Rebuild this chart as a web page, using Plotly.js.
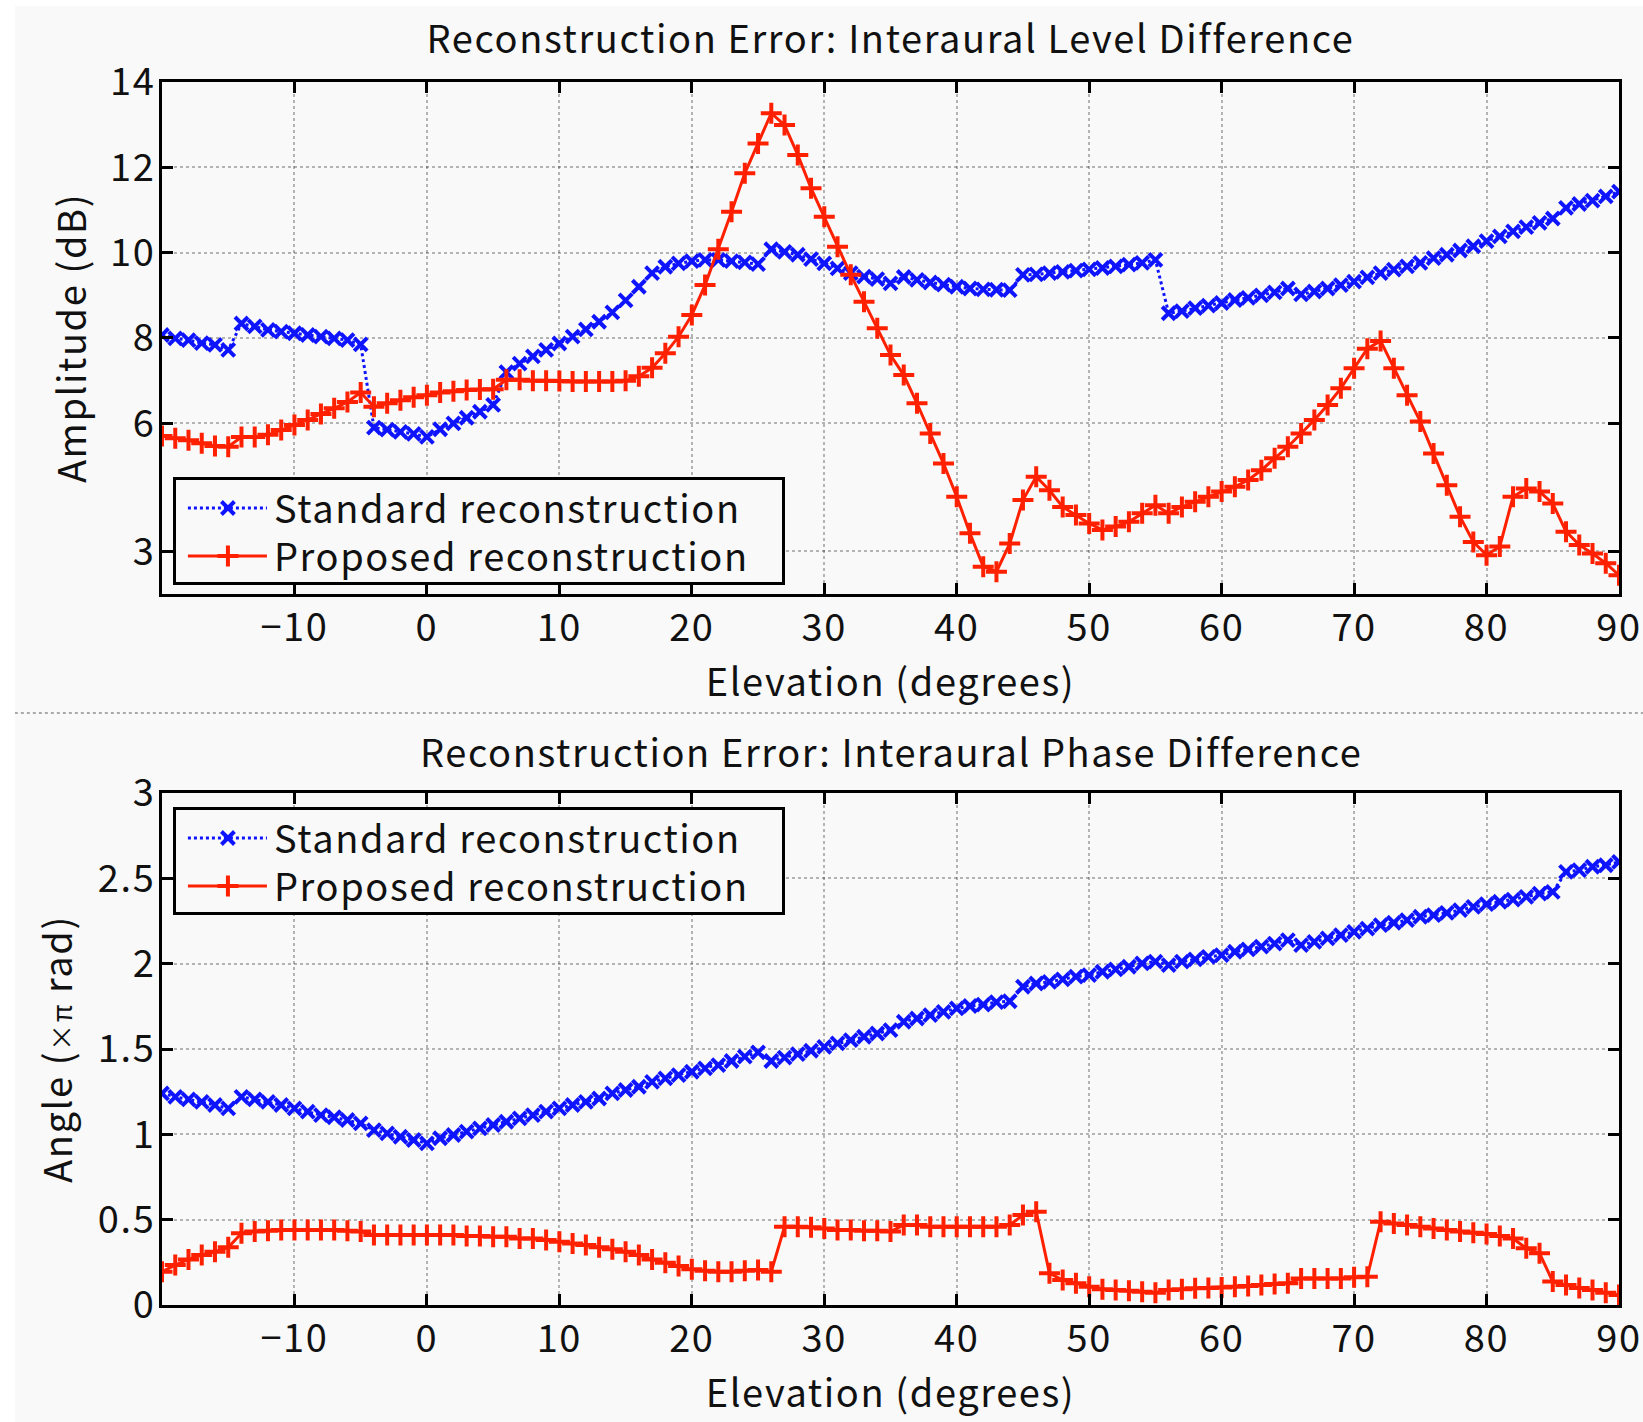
<!DOCTYPE html>
<html><head><meta charset="utf-8">
<script src="https://cdn.plot.ly/plotly-3.0.1.min.js"></script>
<style>html,body{margin:0;padding:0;background:#fff;} #chart{position:absolute;left:15px;top:6px;width:1628px;height:1416px;}
svg text{letter-spacing:1.6px;}</style>
</head><body><div id="chart"></div><script>
const elevation = [-20,-19,-18,-17,-16,-15,-14,-13,-12,-11,
 -10,-9,-8,-7,-6,-5,-4,-3,-2,-1,
 0,1,2,3,4,5,6,7,8,9,
 10,11,12,13,14,15,16,17,18,19,
 20,21,22,23,24,25,26,27,28,29,
 30,31,32,33,34,35,36,37,38,39,
 40,41,42,43,44,45,46,47,48,49,
 50,51,52,53,54,55,56,57,58,59,
 60,61,62,63,64,65,66,67,68,69,
 70,71,72,73,74,75,76,77,78,79,
 80,81,82,83,84,85,86,87,88,89,
 90];
const ildStandard = [8.07,7.99,7.95,7.88,7.84,7.72,8.34,8.27,8.19,8.15,
 8.11,8.07,8.03,7.99,7.95,7.85,5.9,5.85,5.8,5.75,
 5.68,5.86,6.0,6.13,6.27,6.43,7.2,7.4,7.57,7.72,
 7.87,8.03,8.2,8.38,8.6,8.88,9.2,9.52,9.67,9.75,
 9.8,9.83,9.83,9.8,9.77,9.73,10.08,10.02,9.95,9.85,
 9.75,9.63,9.52,9.44,9.38,9.28,9.43,9.36,9.3,9.25,
 9.2,9.16,9.14,9.13,9.12,9.48,9.49,9.52,9.55,9.58,
 9.61,9.64,9.68,9.72,9.76,9.83,8.58,8.63,8.7,8.76,
 8.82,8.89,8.94,9.0,9.07,9.16,9.02,9.09,9.16,9.24,
 9.32,9.42,9.52,9.6,9.68,9.76,9.87,9.95,10.05,10.15,
 10.27,10.38,10.5,10.6,10.7,10.8,11.05,11.14,11.22,11.32,
 11.43];
const ildProposed = [5.7,5.65,5.6,5.53,5.47,5.45,5.68,5.68,5.73,5.84,
 5.96,6.08,6.22,6.35,6.5,6.72,6.39,6.47,6.54,6.61,
 6.66,6.72,6.75,6.78,6.79,6.8,7.02,7.02,7.0,7.0,
 6.99,6.98,6.98,6.98,6.98,7.0,7.1,7.3,7.64,8.03,
 8.54,9.24,10.08,10.96,11.86,12.56,13.27,12.99,12.29,11.51,
 10.84,10.14,9.48,8.85,8.23,7.6,7.13,6.47,5.76,5.06,
 4.28,3.42,2.64,2.52,3.18,4.2,4.75,4.43,4.04,3.85,
 3.65,3.5,3.58,3.69,3.89,4.08,3.89,4.04,4.16,4.28,
 4.4,4.51,4.67,4.9,5.18,5.45,5.76,6.08,6.43,6.82,
 7.29,7.75,7.93,7.29,6.66,6.04,5.29,4.55,3.81,3.22,
 2.91,3.11,4.28,4.47,4.4,4.12,3.46,3.15,2.95,2.72,
 2.44];
const ipdStandard = [1.24,1.22,1.205,1.19,1.172,1.152,1.22,1.205,1.19,1.172,
 1.152,1.133,1.113,1.1,1.084,1.064,1.025,1.006,0.986,0.967,
 0.947,0.977,0.996,1.016,1.035,1.055,1.074,1.094,1.113,1.133,
 1.152,1.172,1.19,1.21,1.24,1.26,1.279,1.308,1.328,1.347,
 1.367,1.387,1.406,1.43,1.455,1.48,1.43,1.45,1.47,1.49,
 1.513,1.533,1.552,1.572,1.591,1.611,1.66,1.679,1.699,1.718,
 1.738,1.752,1.76,1.775,1.78,1.865,1.884,1.894,1.908,1.924,
 1.933,1.953,1.967,1.982,2.002,2.012,1.992,2.012,2.025,2.04,
 2.05,2.07,2.084,2.1,2.118,2.138,2.109,2.128,2.148,2.167,
 2.187,2.206,2.226,2.24,2.255,2.275,2.285,2.298,2.314,2.333,
 2.349,2.363,2.376,2.392,2.411,2.421,2.538,2.548,2.568,2.577,
 2.597];
const ipdProposed = [0.195,0.234,0.267,0.293,0.312,0.338,0.42,0.43,0.435,0.439,
 0.439,0.439,0.439,0.439,0.435,0.43,0.41,0.41,0.41,0.41,
 0.41,0.41,0.41,0.404,0.404,0.4,0.4,0.39,0.39,0.381,
 0.371,0.361,0.352,0.338,0.326,0.312,0.293,0.267,0.248,0.228,
 0.209,0.2,0.195,0.195,0.2,0.205,0.195,0.459,0.459,0.455,
 0.449,0.439,0.439,0.435,0.435,0.43,0.469,0.469,0.459,0.459,
 0.459,0.459,0.459,0.459,0.469,0.527,0.547,0.186,0.146,0.127,
 0.107,0.092,0.088,0.084,0.078,0.072,0.088,0.092,0.098,0.1,
 0.103,0.107,0.111,0.117,0.123,0.127,0.156,0.156,0.156,0.156,
 0.162,0.166,0.488,0.478,0.469,0.459,0.449,0.439,0.43,0.424,
 0.416,0.404,0.39,0.332,0.303,0.137,0.117,0.1,0.088,0.072,
 0.059];
const seriesNames = ['Standard reconstruction', 'Proposed reconstruction'];
const xTicks = [-10,0,10,20,30,40,50,60,70,80,90];
const ildTicks = [3,6,8,10,12,14];
const ipdTicks = [0,0.5,1,1.5,2,2.5,3];
const ipdTickText = ['0','0.5','1','1.5','2','2.5','3'];
const titles = ['Reconstruction Error: Interaural Level Difference','Reconstruction Error: Interaural Phase Difference'];

const BLUE = '#0f14ff', RED = '#ff2000', BG = '#f9f9f9';
const FONT = '"Noto Sans CJK JP", "Noto Sans", sans-serif';

function stdTrace(y, xa, ya, lg){
  return {x: elevation, y: y, xaxis: xa, yaxis: ya, legend: lg, name: seriesNames[0], type:'scatter', mode:'lines+markers',
    line:{color:BLUE, width:3, dash:'dot'},
    marker:{symbol:'x-thin', size:13, color:BLUE, line:{color:BLUE, width:4}}};
}
function propTrace(y, xa, ya, lg){
  return {x: elevation, y: y, xaxis: xa, yaxis: ya, legend: lg, name: seriesNames[1], type:'scatter', mode:'lines+markers',
    line:{color:RED, width:3},
    marker:{symbol:'cross-thin', size:15, color:RED, line:{color:RED, width:4}}};
}
const data = [
  stdTrace(ildStandard,'x','y','legend'),
  propTrace(ildProposed,'x','y','legend'),
  stdTrace(ipdStandard,'x2','y2','legend2'),
  propTrace(ipdProposed,'x2','y2','legend2')
];
function xax(anchor, so){
  return {anchor: anchor, domain:[0,1], range:[-20,90], tickvals:xTicks, showline:true, linewidth:3, linecolor:'#000',
    mirror:'ticks', ticks:'inside', ticklen:11, tickwidth:3, tickcolor:'#000', showgrid:true, gridcolor:'rgba(0,0,0,0.28)',
    griddash:'dot', gridwidth:1.5, zeroline:false, ticklabelstandoff:-2,
    title:{text:'Elevation (degrees)', standoff:so, font:{size:38}}};
}
function yax(anchor, dom, range, tv, tt, title, so){
  const a = {anchor: anchor, domain:dom, range:range, tickvals:tv, showline:true, linewidth:3, linecolor:'#000',
    mirror:'ticks', ticks:'inside', ticklen:11, tickwidth:3, tickcolor:'#000', showgrid:true, gridcolor:'rgba(0,0,0,0.28)',
    griddash:'dot', gridwidth:1.5, zeroline:false, ticklabelstandoff:-4,
    title:{text:title, standoff:so, font:{size:38}}};
  if (tt) a.ticktext = tt;
  return a;
}
const legendBase = {x:0.0075, xanchor:'left', yanchor:'top', bgcolor:BG, bordercolor:'#000', borderwidth:3,
  font:{size:38, color:'#111'}, itemwidth:88, tracegroupgap:0};
const layout = {
  width:1628, height:1416, paper_bgcolor:BG, plot_bgcolor:BG,
  margin:{l:147, r:24, t:76, b:117},
  font:{family:FONT, size:38, color:'#111'},
  showlegend:true,
  title:{text:titles[0], x:0.5, xref:'paper', xanchor:'center', y:1-34/1416, yref:'container', yanchor:'middle', font:{size:38}},
  xaxis: xax('y', 1),
  xaxis2: xax('y2', 2),
  yaxis: yax('x',[0.5814,1],[2,14],ildTicks,null,'Amplitude (dB)',12),
  yaxis2: yax('x2',[0,0.4186],[0,3],ipdTicks,ipdTickText,'Angle (<span style="font-size:27px">×π</span> rad)',14),
  legend: Object.assign({}, legendBase, {y:0.677}),
  legend2: Object.assign({}, legendBase, {y:0.4072}),
  annotations:[{text:titles[1], xref:'paper', yref:'paper', x:0.5, y:0.4538, xanchor:'center', yanchor:'middle', showarrow:false, font:{size:38}}],
  shapes:[{type:'line', xref:'paper', yref:'paper', x0:-0.101, x1:1.0165, y0:0.484, y1:0.484, line:{color:'#aaaaaa', width:2, dash:'dot'}}]
};
function tuneLegends(gd){
  gd.querySelectorAll('g.infolayer > g.legend, g.infolayer > g.legend2, g.legend2').forEach(function(lg){
    const bg = lg.querySelector('rect.bg');
    if (bg){ bg.setAttribute('width', 609); bg.setAttribute('height', 105); }
    lg.querySelectorAll('clipPath rect').forEach(function(r){ r.setAttribute('width', 609); r.setAttribute('height', 105); });
    lg.querySelectorAll('g.traces').forEach(function(t, i){
      const m = /translate\(([-\d.]+)[ ,]+([-\d.]+)\)/.exec(t.getAttribute('transform') || '');
      const tx = m ? parseFloat(m[1]) : 1.5;
      t.setAttribute('transform', 'translate(' + tx + ',' + (31 + i*48) + ')');
      t.querySelectorAll('path.js-line').forEach(function(p){ p.setAttribute('d', 'M12,0h79'); });
      t.querySelectorAll('path.scatterpts').forEach(function(p){ p.setAttribute('transform', 'translate(52,0)'); });
    });
  });
}
Plotly.newPlot('chart', data, layout, {displayModeBar:false, responsive:false}).then(function(gd){ tuneLegends(gd); });
</script></body></html>
